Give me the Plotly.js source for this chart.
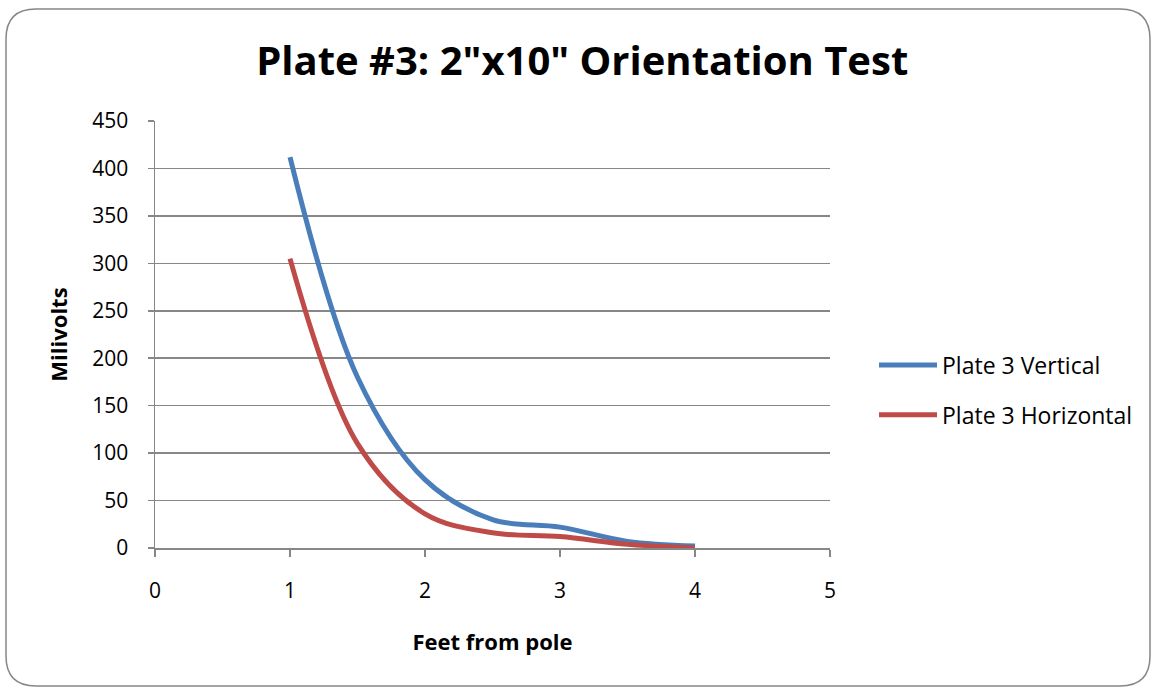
<!DOCTYPE html>
<html>
<head>
<meta charset="utf-8">
<script src="https://cdn.plot.ly/plotly-3.0.1.min.js"></script>
<style>
  html, body { margin: 0; padding: 0; background: #ffffff; }
  #chart { width: 1153px; height: 688px; }
</style>
</head>
<body>
<div id="chart"></div>
<script>
var feet = [1, 1.5, 2, 2.5, 3, 3.5, 4];
var vertical = [412, 180, 72, 30, 22, 7, 2];
var horizontal = [305, 110, 36, 16, 12, 4, 0];
var seriesNames = ["Plate 3 Vertical", "Plate 3 Horizontal"];
var xTicks = [0, 1, 2, 3, 4, 5];
var yTicks = [0, 50, 100, 150, 200, 250, 300, 350, 400, 450];

var FONT = "Open Sans, Noto Sans, sans-serif";

var traces = [
  {x: feet, y: vertical, name: seriesNames[0], mode: "lines", legendgroup: "a",
   line: {color: "#4A7EBB", width: 5, shape: "spline", smoothing: 1}},
  {x: feet, y: horizontal, name: seriesNames[1], mode: "lines", legendgroup: "b",
   line: {color: "#BE4B48", width: 5, shape: "spline", smoothing: 1}}
];

var layout = {
  width: 1153, height: 688,
  paper_bgcolor: "#ffffff", plot_bgcolor: "#ffffff",
  margin: {l: 155, r: 323, t: 121, b: 140},
  font: {family: FONT, color: "#000000", size: 21},
  title: {text: "<b>Plate #3: 2\"x10\" Orientation Test</b>", x: 0.505, xanchor: "center",
          y: 0.911, yanchor: "middle", font: {family: FONT, size: 40, color: "#000"}},
  xaxis: {range: [0, 5], tickvals: xTicks, ticktext: xTicks.map(String),
          showgrid: false, zeroline: false, showline: true, linecolor: "#878787", linewidth: 1.5,
          ticks: "outside", ticklen: 7, tickcolor: "#878787", tickwidth: 1.5,
          ticklabelstandoff: 16,
          tickfont: {size: 21, family: FONT}, fixedrange: true,
          title: {text: "<b>Feet from pole</b>", font: {size: 22, family: FONT}, standoff: 32}},
  yaxis: {range: [0, 450], tickvals: yTicks, ticktext: yTicks.map(String),
          showgrid: true, gridcolor: "#878787", gridwidth: 1.5, zeroline: false,
          showline: true, linecolor: "#878787", linewidth: 1.5,
          ticks: "outside", ticklen: 6, tickcolor: "#878787", tickwidth: 1.5,
          ticklabelstandoff: 15,
          tickfont: {size: 21, family: FONT}, fixedrange: true,
          title: {text: "<b>Milivolts</b>", font: {size: 22, family: FONT}, standoff: 18}},
  showlegend: true,
  legend: {x: 1.0652, xanchor: "left", y: 0.37, yanchor: "middle",
           font: {size: 23, family: FONT}, tracegroupgap: 17, traceorder: "grouped",
           itemwidth: 58, bgcolor: "rgba(0,0,0,0)"}
};

// rounded border around the chart area (paper coordinates)
(function () {
  var W = 1153 - 155 - 323, H = 688 - 121 - 140;
  function px(x) { return ((x - 155) / W).toFixed(5); }
  function py(y) { return ((688 - 140 - y) / H).toFixed(5); }
  var L = 6, T = 9, R = 1150, B = 686, r = 30;
  var p = "M " + px(L + r) + "," + py(T) +
          " L " + px(R - r) + "," + py(T) +
          " Q " + px(R) + "," + py(T) + " " + px(R) + "," + py(T + r) +
          " L " + px(R) + "," + py(B - r) +
          " Q " + px(R) + "," + py(B) + " " + px(R - r) + "," + py(B) +
          " L " + px(L + r) + "," + py(B) +
          " Q " + px(L) + "," + py(B) + " " + px(L) + "," + py(B - r) +
          " L " + px(L) + "," + py(T + r) +
          " Q " + px(L) + "," + py(T) + " " + px(L + r) + "," + py(T) + " Z";
  layout.shapes = [{type: "path", xref: "paper", yref: "paper", layer: "below",
                    path: p, line: {color: "#868686", width: 1.5}, fillcolor: "rgba(0,0,0,0)"}];
})();

Plotly.newPlot("chart", traces, layout, {displayModeBar: false, staticPlot: true});
</script>
</body>
</html>
